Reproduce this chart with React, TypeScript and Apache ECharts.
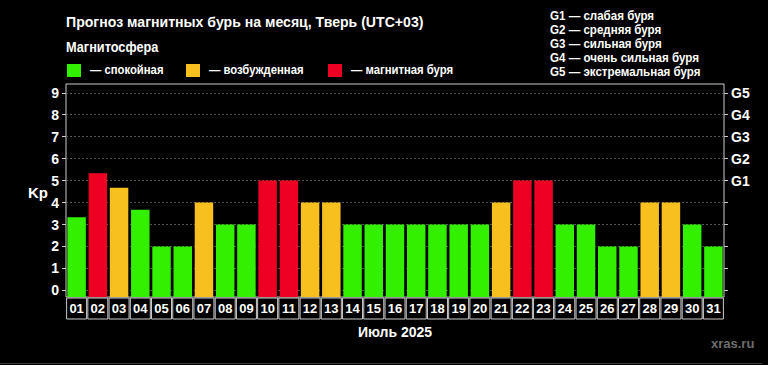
import React, { useEffect, useRef } from "react";
import * as echarts from "echarts";

const days = ["01","02","03","04","05","06","07","08","09","10","11","12","13","14","15","16","17","18","19","20","21","22","23","24","25","26","27","28","29","30","31"];
const kp = [3.33, 5.33, 4.67, 3.67, 2, 2, 4, 3, 3, 5, 5, 4, 4, 3, 3, 3, 3, 3, 3, 3, 4, 5, 5, 3, 3, 2, 2, 4, 4, 3, 2];
const level = ["calm","storm","active","calm","calm","calm","active","calm","calm","storm","storm","active","active","calm","calm","calm","calm","calm","calm","calm","active","storm","storm","calm","calm","calm","calm","active","active","calm","calm"];
const levelNames = ["calm", "active", "storm"];
const levelLabels = ["— спокойная", "— возбужденная", "— магнитная буря"];
const levelColors = ["#33f000", "#f7c01f", "#ee0022"];
const kpTicks = [0, 1, 2, 3, 4, 5, 6, 7, 8, 9];
const gValues = [5, 6, 7, 8, 9];
const gLabels = ["G1", "G2", "G3", "G4", "G5"];
const gDescriptions = ["G1 — слабая буря", "G2 — средняя буря", "G3 — сильная буря", "G4 — очень сильная буря", "G5 — экстремальная буря"];
const title = "Прогноз магнитных бурь на месяц, Тверь (UTC+03)";
const legendTitle = "Магнитосфера";
const monthLabel = "Июль 2025";
const source = "xras.ru";

const Y_MIN = -0.3;
const Y_MAX = 9.4;
const SANS = "'Liberation Sans', Arial, sans-serif";

export default function App() {
  const ref = useRef<HTMLDivElement>(null);
  useEffect(() => {
    document.body.style.margin = "0";
    document.body.style.background = "#000";
    const chart = echarts.init(ref.current!, null, { renderer: "svg" });
    const legendX = [67, 186, 328];
    const graphic: any[] = [
      { type: "text", x: 66, y: 14, scaleX: 0.94, style: { text: title, fill: "#fff", font: `bold 15px ${SANS}` } },
      { type: "text", x: 66, y: 40, scaleX: 0.91, style: { text: legendTitle, fill: "#fff", font: `bold 14px ${SANS}` } },
      { type: "text", x: 28, y: 185, style: { text: "Kp", fill: "#fff", font: `bold 15px ${SANS}` } },
      { type: "text", x: 711, y: 337, style: { text: source, fill: "#6e6e6e", font: `bold 13px ${SANS}` } },
      { type: "line", shape: { x1: 0, y1: 363.5, x2: 762, y2: 363.5 }, style: { stroke: "#3a3a3a", lineWidth: 1 } },
    ];
    levelNames.forEach((n, i) => {
      graphic.push({ type: "rect", shape: { x: legendX[i], y: 64, width: 14, height: 13 }, style: { fill: levelColors[i] } });
      graphic.push({ type: "text", x: legendX[i] + 23, y: 63, scaleX: 0.87, style: { text: levelLabels[i], fill: "#fff", font: `bold 13px ${SANS}` } });
    });
    gDescriptions.forEach((t, i) => {
      graphic.push({ type: "text", x: 550, y: 9 + i * 14, scaleX: 0.89, style: { text: t, fill: "#fff", font: `bold 13px ${SANS}` } });
    });

    chart.setOption({
      animation: false,
      backgroundColor: "#000",
      graphic,
      grid: { left: 66, right: 44, top: 84, bottom: 68, show: true, borderColor: "#ccc", borderWidth: 1, backgroundColor: "#000" },
      xAxis: {
        type: "category",
        data: days,
        name: monthLabel,
        nameLocation: "middle",
        nameGap: 28,
        nameTextStyle: { color: "#fff", fontWeight: "bold", fontSize: 14, fontFamily: SANS },
        axisLine: { show: false },
        axisTick: { show: false },
        axisLabel: {
          interval: 0,
          margin: 1,
          color: "#fff",
          fontWeight: "bold",
          fontSize: 13,
          fontFamily: SANS,
          width: 20,
          height: 21,
          lineHeight: 21,
          align: "center",
          borderColor: "#ccc",
          borderWidth: 1,
        },
      },
      yAxis: [
        {
          type: "value",
          min: Y_MIN,
          max: Y_MAX,
          axisLine: { show: false },
          axisTick: { show: true, customValues: kpTicks, length: 4, lineStyle: { color: "#ccc" } },
          axisLabel: { customValues: kpTicks, color: "#fff", fontWeight: "bold", fontSize: 14, fontFamily: SANS, margin: 7 },
          splitLine: { show: true, lineStyle: { color: "#555", type: [2, 2], width: 1 } },
        },
        {
          type: "value",
          position: "right",
          min: Y_MIN,
          max: Y_MAX,
          axisLine: { show: false },
          axisTick: { show: true, customValues: kpTicks, length: 4, lineStyle: { color: "#ccc" } },
          axisLabel: {
            customValues: gValues,
            color: "#fff",
            fontWeight: "bold",
            fontSize: 14,
            fontFamily: SANS,
            margin: 7,
            formatter: (v: number) => gLabels[gValues.indexOf(Math.round(v))] ?? "",
          },
          splitLine: { show: false },
        },
      ],
      series: [
        {
          type: "custom",
          coordinateSystem: "cartesian2d",
          xAxisIndex: 0,
          yAxisIndex: 0,
          encode: { x: 0, y: 1 },
          renderItem: (params: any, api: any) => {
            const i = api.value(0);
            const v = api.value(1);
            const top = api.coord([i, v]);
            const base = api.coord([i, Y_MIN]);
            const w = api.size([1, 0])[0] * 0.87;
            return {
              type: "rect",
              shape: { x: top[0] - w / 2, y: top[1], width: w, height: base[1] - top[1] },
              style: { fill: api.visual("color") },
            };
          },
          data: days.map((d, i) => ({
            value: [i, kp[i]],
            itemStyle: { color: levelColors[levelNames.indexOf(level[i])] },
          })),
        },
      ],
    });
    return () => chart.dispose();
  }, []);
  return <div ref={ref} style={{ position: "fixed", left: 0, top: 0, width: 768, height: 365 }} />;
}
